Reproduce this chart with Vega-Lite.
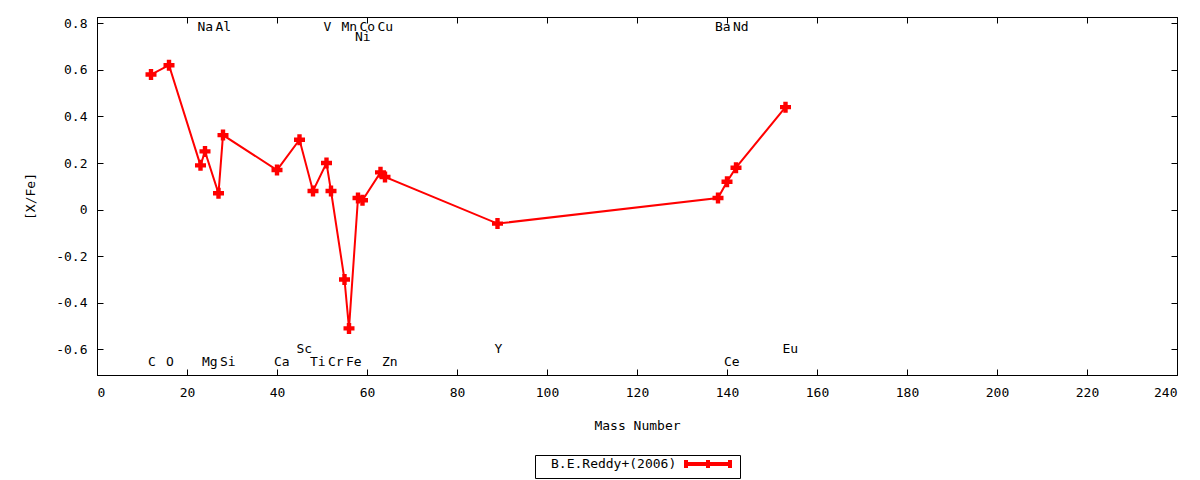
{
  "$schema": "https://vega.github.io/schema/vega-lite/v6.json",
  "width": 1080,
  "height": 358,
  "autosize": {"type": "none"},
  "padding": {"left": 97, "top": 17, "right": 23, "bottom": 105},
  "background": "white",
  "config": {
    "font": "DejaVu Sans Mono",
    "view": {"stroke": "black", "strokeWidth": 1},
    "axis": {
      "grid": false,
      "domainColor": "black",
      "tickColor": "black",
      "tickSize": -6,
      "labelFont": "DejaVu Sans Mono",
      "labelFontSize": 13,
      "labelColor": "black",
      "titleFont": "DejaVu Sans Mono",
      "titleFontSize": 13,
      "titleFontWeight": "normal",
      "titleColor": "black"
    },
    "legend": {
      "labelFont": "DejaVu Sans Mono",
      "labelFontSize": 13,
      "labelColor": "black"
    }
  },
  "data": {
    "values": [
      {"element": "C", "mass": 12, "xfe": 0.58, "labelY": -0.655},
      {"element": "O", "mass": 16, "xfe": 0.62, "labelY": -0.655},
      {"element": "Na", "mass": 23, "xfe": 0.19, "labelY": 0.783},
      {"element": "Mg", "mass": 24, "xfe": 0.25, "labelY": -0.655},
      {"element": "Al", "mass": 27, "xfe": 0.07, "labelY": 0.783},
      {"element": "Si", "mass": 28, "xfe": 0.32, "labelY": -0.655},
      {"element": "Ca", "mass": 40, "xfe": 0.17, "labelY": -0.655},
      {"element": "Sc", "mass": 45, "xfe": 0.30, "labelY": -0.597},
      {"element": "Ti", "mass": 48, "xfe": 0.08, "labelY": -0.655},
      {"element": "V", "mass": 51, "xfe": 0.20, "labelY": 0.783},
      {"element": "Cr", "mass": 52, "xfe": 0.08, "labelY": -0.655},
      {"element": "Mn", "mass": 55, "xfe": -0.30, "labelY": 0.783},
      {"element": "Fe", "mass": 56, "xfe": -0.51, "labelY": -0.655},
      {"element": "Ni", "mass": 58, "xfe": 0.05, "labelY": 0.741},
      {"element": "Co", "mass": 59, "xfe": 0.04, "labelY": 0.783},
      {"element": "Cu", "mass": 63, "xfe": 0.16, "labelY": 0.783},
      {"element": "Zn", "mass": 64, "xfe": 0.14, "labelY": -0.655},
      {"element": "Y", "mass": 89, "xfe": -0.06, "labelY": -0.597},
      {"element": "Ba", "mass": 138, "xfe": 0.05, "labelY": 0.783},
      {"element": "Ce", "mass": 140, "xfe": 0.12, "labelY": -0.655},
      {"element": "Nd", "mass": 142, "xfe": 0.18, "labelY": 0.783},
      {"element": "Eu", "mass": 153, "xfe": 0.44, "labelY": -0.597}
    ]
  },
  "layer": [
    {
      "mark": {"type": "line", "color": "red", "strokeWidth": 2},
      "encoding": {
        "x": {
          "field": "mass", "type": "quantitative",
          "scale": {"domain": [0, 240], "nice": false, "zero": false},
          "axis": {
            "orient": "bottom", "title": "Mass Number",
            "values": [0, 20, 40, 60, 80, 100, 120, 140, 160, 180, 200, 220, 240],
            "format": "d", "labelPadding": 17, "titlePadding": 20
          }
        },
        "y": {
          "field": "xfe", "type": "quantitative",
          "scale": {"domain": [-0.71, 0.827], "nice": false, "zero": false},
          "axis": {
            "orient": "left", "title": "[X/Fe]",
            "values": [-0.6, -0.4, -0.2, 0, 0.2, 0.4, 0.6, 0.8],
            "labelExpr": "replace(format(datum.value, '~g'), '\u2212', '-')",
            "labelPadding": 16, "titlePadding": 18
          }
        },
        "color": {
          "datum": "B.E.Reddy+(2006)",
          "type": "nominal",
          "scale": {"range": ["red"]},
          "legend": {
            "title": null,
            "orient": "none",
            "legendX": 438,
            "legendY": 438,
            "strokeColor": "black",
            "padding": 2,
            "symbolType": "M-4.4,0L4.4,0M-4.4,-0.8L-4.4,0.8M0,-0.8L0,0.8M4.4,-0.8L4.4,0.8",
            "symbolSize": 100,
            "symbolStrokeWidth": 4,
            "symbolStrokeColor": "red",
            "symbolFillColor": "transparent",
            "symbolOffset": 164,
            "labelOffset": -164
          }
        }
      }
    },
    {
      "mark": {"type": "point", "shape": "cross", "filled": true, "color": "red", "size": 121, "opacity": 1},
      "encoding": {
        "x": {
          "field": "mass", "type": "quantitative",
          "axis": {"orient": "top", "title": null, "labels": false,
            "values": [0, 20, 40, 60, 80, 100, 120, 140, 160, 180, 200, 220, 240]}
        },
        "y": {
          "field": "xfe", "type": "quantitative",
          "axis": {"orient": "right", "title": null, "labels": false,
            "values": [-0.6, -0.4, -0.2, 0, 0.2, 0.4, 0.6, 0.8]}
        }
      }
    },
    {
      "mark": {"type": "text", "align": "left", "baseline": "middle", "dx": -3, "font": "DejaVu Sans Mono", "fontSize": 13, "color": "black"},
      "encoding": {
        "x": {"field": "mass", "type": "quantitative", "axis": null},
        "y": {"field": "labelY", "type": "quantitative", "axis": null},
        "text": {"field": "element"}
      }
    }
  ],
  "resolve": {"axis": {"x": "independent", "y": "independent"}}
}
